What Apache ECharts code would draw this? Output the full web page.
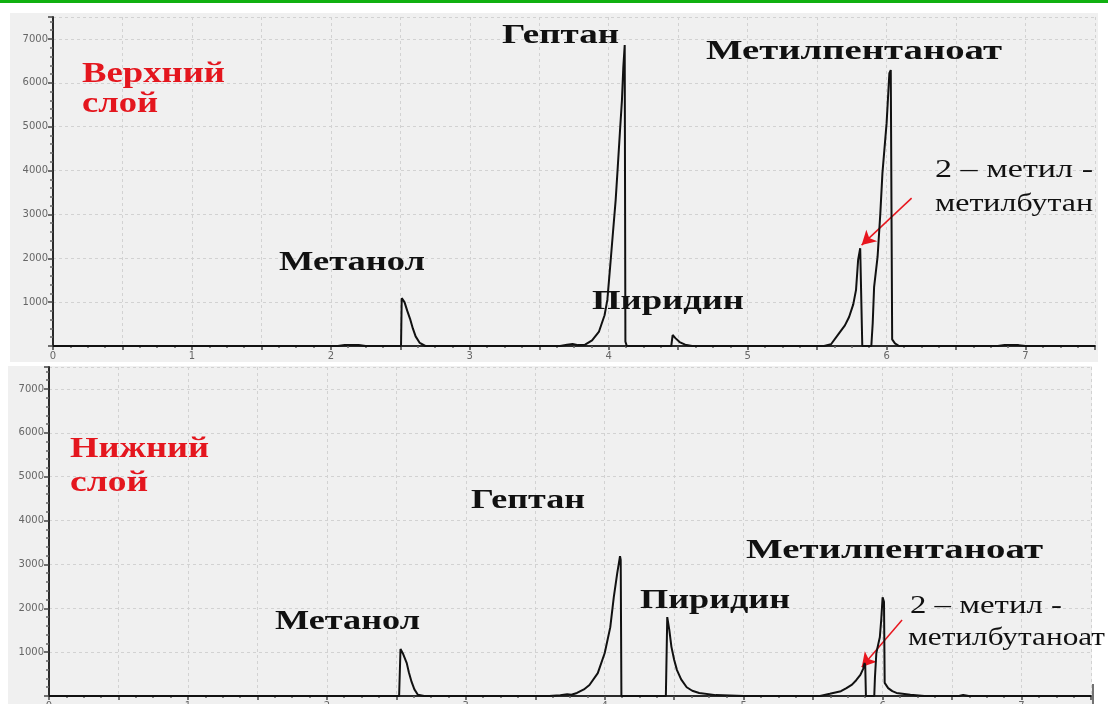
<!DOCTYPE html>
<html>
<head>
<meta charset="utf-8">
<script src="https://cdn.jsdelivr.net/npm/echarts@6/dist/echarts.min.js"></script>
<style>
  html, body { margin: 0; padding: 0; background: #ffffff; }
  #chart { width: 1108px; height: 704px; }
</style>
</head>
<body>
<div id="chart"></div>
<script>
// Chromatogram of the upper layer: [retention time, min ; detector response]
const upperTrace = [
  [0, 0], [2.05, 0], [2.1, 25], [2.2, 25], [2.25, 0],
  [2.505, 0], [2.51, 1090], [2.53, 1000], [2.55, 800], [2.57, 620], [2.59, 400],
  [2.61, 220], [2.64, 70], [2.68, 0],
  [3.65, 0], [3.7, 30], [3.74, 45], [3.78, 20], [3.83, 30], [3.88, 130], [3.93, 330],
  [3.97, 700], [3.99, 1050], [4.01, 1800], [4.03, 2570], [4.05, 3330], [4.065, 4080],
  [4.08, 4850], [4.095, 5600], [4.105, 6360], [4.115, 6860], [4.12, 100], [4.13, 0],
  [4.45, 0], [4.46, 250], [4.48, 180], [4.51, 90], [4.55, 30], [4.6, 0],
  [5.55, 0], [5.6, 40], [5.66, 300], [5.7, 470], [5.73, 660], [5.76, 950], [5.78, 1280],
  [5.795, 1960], [5.81, 2230], [5.82, 2200], [5.825, 0],
  [5.89, 0], [5.9, 520], [5.91, 1340], [5.935, 2030], [5.955, 3030], [5.97, 3940],
  [6.0, 5080], [6.02, 6220], [6.03, 6290], [6.04, 150], [6.06, 60], [6.09, 0],
  [6.8, 0], [6.85, 25], [6.95, 20], [7.0, 0], [7.5, 0]
];

// Chromatogram of the lower layer
const lowerTrace = [
  [0, 0], [2.52, 0], [2.53, 1070], [2.55, 950], [2.575, 750], [2.59, 540], [2.61, 320],
  [2.63, 150], [2.655, 30], [2.7, 0],
  [3.6, 0], [3.68, 20], [3.73, 40], [3.76, 30], [3.8, 70], [3.85, 150], [3.89, 250],
  [3.95, 520], [4.0, 980], [4.04, 1570], [4.065, 2250], [4.09, 2800], [4.11, 3190],
  [4.115, 3100], [4.12, 0],
  [4.44, 0], [4.45, 1800], [4.465, 1500], [4.48, 1120], [4.5, 820], [4.52, 590],
  [4.55, 380], [4.59, 200], [4.63, 120], [4.68, 70], [4.8, 20], [5.0, 0],
  [5.55, 0], [5.62, 50], [5.7, 110], [5.74, 180], [5.78, 260], [5.81, 360], [5.84, 480],
  [5.86, 620], [5.87, 750], [5.875, 700], [5.88, 0],
  [5.94, 0], [5.945, 430], [5.955, 980], [5.97, 1200], [5.98, 1340], [5.99, 1730],
  [6.0, 2250], [6.01, 2150], [6.015, 300], [6.04, 180], [6.07, 110], [6.1, 70],
  [6.2, 30], [6.3, 0],
  [6.55, 0], [6.58, 25], [6.62, 0], [7.5, 0]
];

// Axis ranges and tick steps
const timeRange = [0, 7.5];
const timeStep = 0.5;
const responseRange = [0, 7500];
const responseStep = 1000;

// Arrows pointing at the minor ester peaks: [from, to] in [time, response]
const upperArrow = [[6.18, 3370], [5.82, 2300]];
const lowerArrow = [[6.14, 1730], [5.85, 660]];

// Text annotations: text, left edge, vertical centre, target width, style
const SERIF = '"Liberation Serif", "DejaVu Serif", serif';
const annotations = [
  { text: 'Верхний', x: 82, y: 74, w: 143, size: 30, bold: true, color: '#e4161e' },
  { text: 'слой', x: 82, y: 104, w: 76, size: 30, bold: true, color: '#e4161e' },
  { text: 'Гептан', x: 502, y: 36, w: 117, size: 27, bold: true, color: '#111' },
  { text: 'Метилпентаноат', x: 706, y: 52, w: 296, size: 27, bold: true, color: '#111' },
  { text: 'Метанол', x: 279, y: 263, w: 146, size: 27, bold: true, color: '#111' },
  { text: 'Пиридин', x: 592, y: 302, w: 152, size: 27, bold: true, color: '#111' },
  { text: '2 – метил -', x: 935, y: 170, w: 158, size: 26, bold: false, color: '#111' },
  { text: 'метилбутан', x: 935, y: 204, w: 158, size: 26, bold: false, color: '#111' },

  { text: 'Нижний', x: 70, y: 449, w: 139, size: 30, bold: true, color: '#e4161e' },
  { text: 'слой', x: 70, y: 483, w: 78, size: 30, bold: true, color: '#e4161e' },
  { text: 'Гептан', x: 471, y: 501, w: 114, size: 27, bold: true, color: '#111' },
  { text: 'Метилпентаноат', x: 746, y: 551, w: 297, size: 27, bold: true, color: '#111' },
  { text: 'Пиридин', x: 640, y: 601, w: 150, size: 27, bold: true, color: '#111' },
  { text: 'Метанол', x: 275, y: 622, w: 145, size: 27, bold: true, color: '#111' },
  { text: '2 – метил -', x: 910, y: 606, w: 152, size: 26, bold: false, color: '#111' },
  { text: 'метилбутаноат', x: 908, y: 638, w: 197, size: 26, bold: false, color: '#111' }
];

const measureCtx = document.createElement('canvas').getContext('2d');
function fontOf(a) {
  return (a.bold ? 'bold ' : '') + a.size + 'px ' + SERIF;
}
function textElement(a) {
  const font = fontOf(a);
  measureCtx.font = font;
  const natural = measureCtx.measureText(a.text).width || 1;
  return {
    type: 'text',
    x: a.x,
    y: a.y,
    scaleX: a.w / natural,
    z: 100,
    silent: true,
    style: {
      text: a.text,
      font: font,
      fill: a.color,
      textAlign: 'left',
      align: 'left',
      textVerticalAlign: 'middle',
      verticalAlign: 'middle'
    }
  };
}

const grids = [
  { left: 53, top: 17, width: 1042, height: 329, outerBoundsMode: 'none', containLabel: false },
  { left: 49, top: 367, width: 1042, height: 329, outerBoundsMode: 'none', containLabel: false }
];

function makeXAxis(gridIndex) {
  return {
    type: 'value',
    gridIndex: gridIndex,
    min: timeRange[0],
    max: timeRange[1],
    interval: timeStep,
    axisLine: { onZero: false, lineStyle: { color: '#2a2a2a', width: 2 } },
    axisTick: { show: true, length: 4, lineStyle: { color: '#444', width: 1.5 } },
    minorTick: { show: true, splitNumber: 4, length: 2, lineStyle: { color: '#666', width: 1.5 } },
    axisLabel: {
      margin: 5,
      fontSize: 10,
      fontFamily: 'DejaVu Sans',
      color: '#666',
      formatter: function (v) { return Number.isInteger(v) ? String(v) : ''; }
    },
    splitLine: { show: true, lineStyle: { color: '#d2d2d2', type: [3, 3], width: 1 } }
  };
}

function makeYAxis(gridIndex) {
  return {
    type: 'value',
    gridIndex: gridIndex,
    min: responseRange[0],
    max: responseRange[1],
    interval: responseStep,
    axisLine: { show: true, onZero: false, lineStyle: { color: '#2a2a2a', width: 2 } },
    axisTick: { show: true, length: 5, lineStyle: { color: '#444', width: 1.5 } },
    minorTick: { show: true, splitNumber: 5, length: 3, lineStyle: { color: '#666', width: 1.5 } },
    axisLabel: {
      margin: 5,
      fontSize: 10,
      fontFamily: 'DejaVu Sans',
      color: '#666',
      formatter: function (v) { return (v === 0 || v % responseStep !== 0) ? '' : String(v); }
    },
    splitLine: { show: true, lineStyle: { color: '#d2d2d2', type: [3, 3], width: 1 } }
  };
}

function arrowLine(pair) {
  return {
    silent: true,
    animation: false,
    symbol: ['none', 'arrow'],
    symbolSize: [12, 14],
    label: { show: false },
    lineStyle: { color: '#e8161e', width: 1.5, type: 'solid' },
    data: [[{ coord: pair[0] }, { coord: pair[1] }]]
  };
}

function traceSeries(data, index, arrow) {
  return {
    type: 'line',
    xAxisIndex: index,
    yAxisIndex: index,
    data: data,
    showSymbol: false,
    symbol: 'none',
    lineStyle: { color: '#111', width: 2 },
    z: 5,
    markLine: arrowLine(arrow)
  };
}

const chart = echarts.init(document.getElementById('chart'), null, { renderer: 'canvas' });

chart.setOption({
  animation: false,
  backgroundColor: '#ffffff',
  grid: grids,
  xAxis: [makeXAxis(0), makeXAxis(1)],
  yAxis: [makeYAxis(0), makeYAxis(1)],
  series: [
    traceSeries(upperTrace, 0, upperArrow),
    traceSeries(lowerTrace, 1, lowerArrow)
  ],
  graphic: [
    // green band at the top edge
    { type: 'rect', shape: { x: 0, y: 0, width: 1108, height: 3 }, style: { fill: '#10b010' }, z: -20, silent: true },
    // panel backgrounds
    { type: 'rect', shape: { x: 10, y: 13, width: 1088, height: 349 }, style: { fill: '#f0f0f0' }, z: -20, silent: true },
    { type: 'rect', shape: { x: 8, y: 366, width: 1084, height: 338 }, style: { fill: '#f0f0f0' }, z: -20, silent: true },
    // end marker of the lower time axis
    { type: 'line', shape: { x1: 1093, y1: 684, x2: 1093, y2: 704 }, style: { stroke: '#444', lineWidth: 1.5 }, z: 10, silent: true }
  ].concat(annotations.map(textElement))
});
</script>
</body>
</html>
